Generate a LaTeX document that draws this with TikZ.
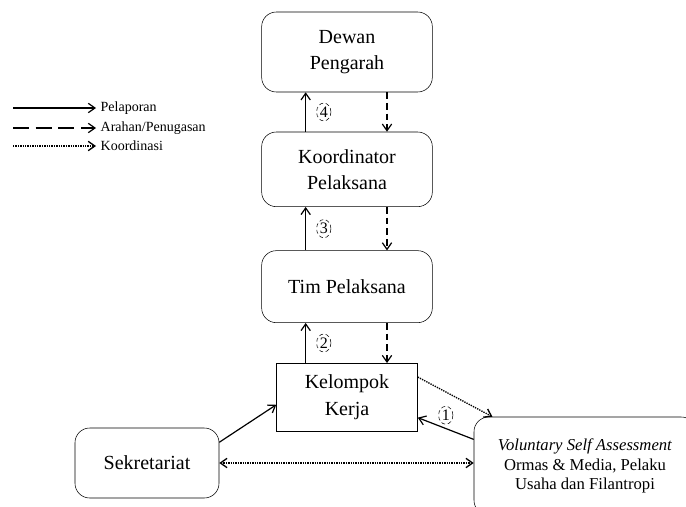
\documentclass[tikz,border=0pt]{standalone}
\usepackage{fontspec}
\setmainfont{Liberation Serif}
\usetikzlibrary{positioning,arrows.meta,shapes.geometric}
\begin{document}
\begin{tikzpicture}[x=0.75pt,y=-0.75pt,>={Straight Barb[length=5pt,width=7pt]},node distance=88pt,
  kotak/.style={draw,rounded corners=11pt,minimum width=128pt,minimum height=56pt,align=center,font=\fontsize{15}{19.5}\selectfont},
  nomor/.style={draw,densely dashed,ellipse,inner sep=0.8pt,thin,font=\fontsize{12}{12}\selectfont},
  lapor/.style={->,line width=0.9pt},
  arahan/.style={->,line width=0.9pt,dash pattern=on 5pt off 3pt},
  koord/.style={->,line width=1pt,dash pattern=on 1pt off 0.8pt}]
  \useasboundingbox (0,0) rectangle (686,507);
  % struktur utama
  \node[kotak,minimum height=60pt] (DP) at (347,52) {Dewan\\Pengarah};
  \node[kotak,below of=DP] (KP) {Koordinator\\Pelaksana};
  \node[kotak,below of=KP,minimum height=54pt] (TP) {Tim Pelaksana};
  \node[draw,below of=TP,node distance=83pt,minimum width=105.75pt,minimum height=51pt,align=center,font=\fontsize{15}{20}\selectfont] (KK) {Kelompok\\Kerja};
  \node[kotak,minimum width=108pt,minimum height=52.5pt] (SK) at (147,463) {Sekretariat};
  \node[kotak,minimum width=166.5pt,minimum height=73.5pt,font=\fontsize{12.5}{14.5}\selectfont] (VSA) at (585,466) {\textit{Voluntary Self Assessment}\\Ormas \& Media, Pelaku\\Usaha dan Filantropi};
  % pelaporan dan arahan
  \draw[lapor] ([xshift=-31pt]KP.north) -- node[nomor,right=8pt]{4} ([xshift=-31pt]DP.south);
  \draw[arahan] ([xshift=30pt]DP.south) -- ([xshift=30pt]KP.north);
  \draw[lapor] ([xshift=-31pt]TP.north) -- node[nomor,right=8pt]{3} ([xshift=-31pt]KP.south);
  \draw[arahan] ([xshift=30pt]KP.south) -- ([xshift=30pt]TP.north);
  \draw[lapor] ([xshift=-31pt]KK.north) -- node[nomor,right=8pt]{2} ([xshift=-31pt]TP.south);
  \draw[arahan] ([xshift=30pt]TP.south) -- ([xshift=30pt]KK.north);
  \draw[lapor] (SK.16) -- (KK.186);
  \draw[lapor] ([yshift=-17pt]VSA.north west) -- node[nomor,above=3pt]{1} (KK.-16);
  % koordinasi
  \draw[koord] (KK.16) -- ([xshift=14pt]VSA.north west);
  \draw[koord,<->] (SK.east) -- (SK.east -| VSA.west);
  % keterangan
  \node[anchor=west,font=\fontsize{10.5}{11}\selectfont] (ket1) at (96,108) {Pelaporan};
  \node[anchor=west,font=\fontsize{10.5}{11}\selectfont] (ket2) at (96,128) {Arahan/Penugasan};
  \node[anchor=west,font=\fontsize{10.5}{11}\selectfont] (ket3) at (96,146) {Koordinasi};
  \coordinate (k1) at (13,108);
  \coordinate (k2) at (13,128);
  \coordinate (k3) at (13,146);
  \draw[lapor] (k1) -- (ket1);
  \draw[arahan,dash pattern=on 12pt off 5pt] (k2) -- (ket2);
  \draw[koord] (k3) -- (ket3);
\end{tikzpicture}
\end{document}
